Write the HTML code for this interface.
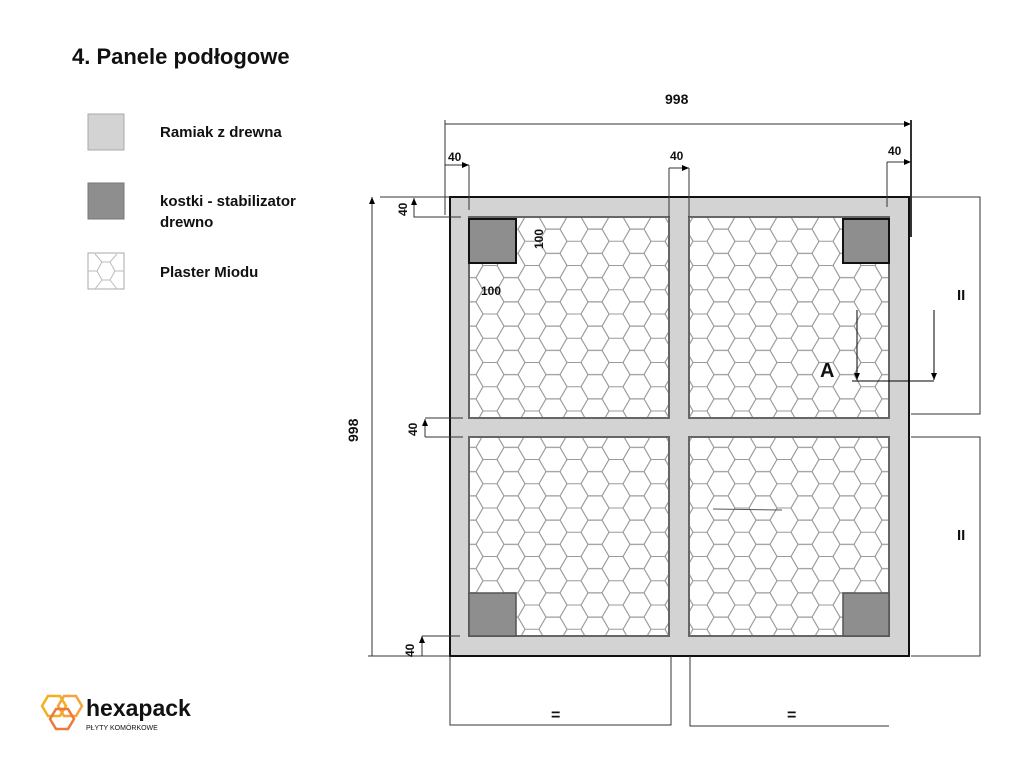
<!DOCTYPE html>
<html><head><meta charset="utf-8"><style>
body{margin:0;background:#fff;width:1024px;height:768px;overflow:hidden;font-family:"Liberation Sans",Arial,sans-serif;}
svg text{font-family:"Liberation Sans",Arial,sans-serif;font-weight:bold;fill:#111;}
</style></head><body>
<svg width="1024" height="768" viewBox="0 0 1024 768" xmlns="http://www.w3.org/2000/svg">
<defs>
<pattern id="hex" patternUnits="userSpaceOnUse" width="42" height="24.25" x="469" y="217">
<rect x="0" y="0" width="42" height="24.25" fill="#fff"/>
<g fill="none" stroke="#9a9a9a" stroke-width="1">
<path id="h" d="M14 0 L7 12.12 L-7 12.12 L-14 0 L-7 -12.12 L7 -12.12 Z"/>
<use href="#h" x="42" y="0"/><use href="#h" x="0" y="24.25"/><use href="#h" x="42" y="24.25"/>
<use href="#h" x="21" y="12.12"/><use href="#h" x="21" y="-12.12"/><use href="#h" x="21" y="36.37"/>
</g></pattern>
<marker id="ar" markerWidth="8" markerHeight="8" refX="7" refY="3" orient="auto" markerUnits="userSpaceOnUse"><path d="M0 0 L7 3 L0 6Z" fill="#000"/></marker>
</defs>
<text x="72" y="64" font-size="22">4. Panele podłogowe</text>
<rect x="88" y="114" width="36" height="36" fill="#d4d3d4" stroke="#aaa"/>
<text x="160" y="137" font-size="15">Ramiak z drewna</text>
<rect x="88" y="183" width="36" height="36" fill="#8e8e8e" stroke="#777"/>
<text x="160" y="206" font-size="15">kostki - stabilizator</text>
<text x="160" y="227" font-size="15">drewno</text>
<rect x="88" y="253" width="36" height="36" fill="#fff" stroke="#aaa"/>
<path d="M95 254 L102 262 L110 262 L117 254 M102 262 L97 271 L102 280 L110 280 L115 271 L110 262 M97 271 L88 271 M115 271 L124 271 M102 280 L95 289 M110 280 L117 289" fill="none" stroke="#bbb"/>
<text x="160" y="277" font-size="15">Plaster Miodu</text>

<rect x="450" y="197" width="459" height="459" fill="#d4d3d4" stroke="#111" stroke-width="2"/>
<g fill="url(#hex)" stroke="#666" stroke-width="2">
<rect x="469" y="217" width="200" height="201"/>
<rect x="689" y="217" width="200" height="201"/>
<rect x="469" y="437" width="200" height="199"/>
<rect x="689" y="437" width="200" height="199"/>
</g>
<rect x="469" y="219" width="47" height="44" fill="#8e8e8e" stroke="#111" stroke-width="2"/>
<rect x="843" y="219" width="46" height="44" fill="#8e8e8e" stroke="#111" stroke-width="2"/>
<rect x="469" y="593" width="47" height="43" fill="#8e8e8e" stroke="#555" stroke-width="1.5"/>
<rect x="843" y="593" width="46" height="43" fill="#8e8e8e" stroke="#555" stroke-width="1.5"/>
<line x1="713" y1="509" x2="782" y2="510" stroke="#555"/>

<g stroke="#333" stroke-width="1" fill="none">
<line x1="445" y1="124" x2="911" y2="124" marker-end="url(#ar)"/>
<line x1="445" y1="120" x2="445" y2="215"/>
<line x1="911" y1="120" x2="911" y2="237" stroke-width="2"/>
<line x1="372" y1="656" x2="372" y2="197" marker-end="url(#ar)"/>
<line x1="380" y1="197" x2="450" y2="197"/>
<line x1="368" y1="656" x2="450" y2="656"/>
<line x1="469" y1="210" x2="469" y2="165"/>
<line x1="445" y1="165" x2="469" y2="165" marker-end="url(#ar)"/>
<line x1="669" y1="217" x2="669" y2="168"/>
<line x1="669" y1="168" x2="689" y2="168" marker-end="url(#ar)"/>
<line x1="689" y1="168" x2="689" y2="217"/>
<line x1="887" y1="207" x2="887" y2="162"/>
<line x1="887" y1="162" x2="911" y2="162" marker-end="url(#ar)"/>
<polyline points="461,217 414,217 414,199"/>
<line x1="414" y1="217" x2="414" y2="198" marker-end="url(#ar)"/>
<polyline points="463,418 425,418"/>
<polyline points="463,437 425,437"/>
<line x1="425" y1="437" x2="425" y2="419" marker-end="url(#ar)"/>
<line x1="422" y1="636" x2="460" y2="636"/>
<line x1="422" y1="656" x2="422" y2="636" marker-end="url(#ar)"/>
<polyline points="911,197 980,197 980,414 911,414"/>
<polyline points="911,437 980,437 980,656 911,656"/>
<polyline points="450,656 450,725 671,725 671,656"/>
<polyline points="690,656 690,726 889,726"/>
<line x1="857" y1="310" x2="857" y2="380" stroke="#000" marker-end="url(#ar)"/>
<line x1="934" y1="310" x2="934" y2="380" stroke="#000" marker-end="url(#ar)"/>
<line x1="852" y1="381" x2="934" y2="381" stroke="#000"/>
</g>
<text x="665" y="104" font-size="14">998</text>
<text x="448" y="161" font-size="12">40</text>
<text x="670" y="160" font-size="12">40</text>
<text x="888" y="155" font-size="12">40</text>
<text x="481" y="295" font-size="12">100</text>
<text transform="translate(543,249) rotate(-90)" font-size="12">100</text>
<text transform="translate(407,216) rotate(-90)" font-size="12">40</text>
<text transform="translate(417,436) rotate(-90)" font-size="12">40</text>
<text transform="translate(414,657) rotate(-90)" font-size="12">40</text>
<text transform="translate(358,442) rotate(-90)" font-size="14">998</text>
<text x="820" y="377" font-size="20">A</text>
<text x="957" y="300" font-size="15">II</text>
<text x="957" y="540" font-size="15">II</text>
<text x="551" y="720" font-size="16">=</text>
<text x="787" y="720" font-size="16">=</text>

<g fill="none" stroke-width="2.5">
<path d="M46 697 L52 707 L46 717 L34 717 L28 707 L34 697Z" transform="translate(14,-1)" stroke="#f2b01e"/>
<path d="M46 697 L52 707 L46 717 L34 717 L28 707 L34 697Z" transform="translate(30,-1)" stroke="#f4a43a"/>
<path d="M46 697 L52 707 L46 717 L34 717 L28 707 L34 697Z" transform="translate(22,12)" stroke="#ec7a3c"/>
</g>
<text x="86" y="716" font-size="23" style="font-weight:bold">hexapack</text>
<text x="86" y="730" font-size="7" style="font-weight:normal" fill="#333">PŁYTY KOMÓRKOWE</text>
</svg>
</body></html>
